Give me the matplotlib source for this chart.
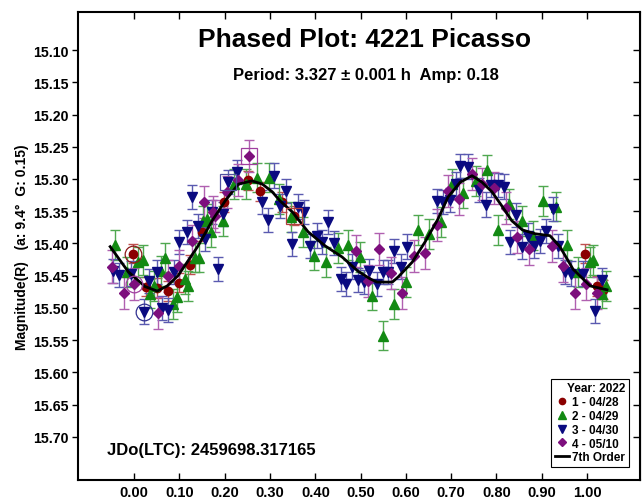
import matplotlib.pyplot as plt
from matplotlib.lines import Line2D

plt.rcParams["font.family"] = ["Liberation Sans", "DejaVu Sans"]
plt.rcParams["font.weight"] = "bold"

# session 1 - 04/28
red_phase = [-0.002, 0.026, 0.051, 0.075, 0.100, 0.124, 0.150, 0.199, 0.252, 0.278,
             0.327, 0.353, 0.996, 1.022, 1.035]
red_mag = [15.416, 15.467, 15.469, 15.474, 15.461, 15.433, 15.382, 15.336, 15.302, 15.319,
           15.336, 15.357, 15.416, 15.466, 15.472]

# session 2 - 04/29
green_phase = [-0.042, -0.015, 0.009, 0.020, 0.035, 0.044, 0.060, 0.068, 0.086, 0.095,
               0.113, 0.119, 0.135, 0.143, 0.152, 0.161, 0.170, 0.196, 0.221, 0.247,
               0.272, 0.298, 0.320, 0.347, 0.373, 0.397, 0.424, 0.450, 0.472, 0.499,
               0.525, 0.550, 0.574, 0.600, 0.627, 0.651, 0.678, 0.702, 0.726, 0.755,
               0.779, 0.804, 0.828, 0.857, 0.881, 0.903, 0.932, 0.956, 0.980, 1.007,
               1.013, 1.033, 1.042]
green_mag = [15.402, 15.444, 15.429, 15.426, 15.478, 15.466, 15.443, 15.422, 15.494, 15.483,
             15.455, 15.466, 15.422, 15.422, 15.365, 15.362, 15.382, 15.365, 15.308, 15.308,
             15.298, 15.298, 15.331, 15.359, 15.382, 15.419, 15.429, 15.407, 15.402, 15.421,
             15.481, 15.543, 15.494, 15.460, 15.379, 15.385, 15.367, 15.308, 15.322, 15.303,
             15.286, 15.379, 15.339, 15.365, 15.388, 15.334, 15.343, 15.402, 15.444, 15.429,
             15.426, 15.478, 15.466]

# session 3 - 04/30
blue_phase = [-0.046, -0.033, -0.007, 0.022, 0.033, 0.051, 0.062, 0.075, 0.088, 0.100,
              0.117, 0.128, 0.141, 0.157, 0.172, 0.185, 0.196, 0.208, 0.227, 0.283,
              0.296, 0.309, 0.321, 0.336, 0.349, 0.362, 0.375, 0.389, 0.404, 0.415,
              0.428, 0.442, 0.457, 0.468, 0.481, 0.494, 0.508, 0.519, 0.536, 0.550,
              0.561, 0.574, 0.589, 0.603, 0.669, 0.682, 0.698, 0.711, 0.720, 0.737,
              0.762, 0.777, 0.788, 0.804, 0.817, 0.830, 0.843, 0.857, 0.870, 0.883,
              0.896, 0.910, 0.925, 0.936, 0.951, 0.965, 0.991, 1.018, 1.033]
blue_mag = [15.443, 15.449, 15.447, 15.506, 15.458, 15.444, 15.500, 15.503, 15.444, 15.398,
            15.382, 15.328, 15.373, 15.393, 15.351, 15.440, 15.354, 15.305, 15.289, 15.336,
            15.364, 15.295, 15.342, 15.319, 15.401, 15.343, 15.351, 15.404, 15.388, 15.398,
            15.367, 15.399, 15.455, 15.463, 15.436, 15.457, 15.460, 15.443, 15.463, 15.444,
            15.444, 15.412, 15.436, 15.405, 15.334, 15.336, 15.333, 15.308, 15.280, 15.281,
            15.317, 15.340, 15.309, 15.309, 15.312, 15.398, 15.356, 15.405, 15.388, 15.404,
            15.396, 15.381, 15.347, 15.404, 15.444, 15.447, 15.447, 15.505, 15.457]

# session 4 - 05/10
purple_phase = [-0.049, -0.022, 0.000, 0.053, 0.075, 0.100, 0.128, 0.155, 0.174, 0.179,
                0.205, 0.230, 0.254, 0.490, 0.517, 0.541, 0.567, 0.592, 0.618, 0.642,
                0.669, 0.693, 0.717, 0.746, 0.768, 0.795, 0.821, 0.845, 0.872, 0.923,
                0.947, 0.974, 0.998, 1.022]
purple_mag = [15.436, 15.477, 15.463, 15.508, 15.450, 15.435, 15.396, 15.336, 15.351, 15.357,
              15.320, 15.302, 15.264, 15.412, 15.458, 15.409, 15.446, 15.477, 15.419, 15.415,
              15.371, 15.319, 15.331, 15.292, 15.308, 15.314, 15.345, 15.390, 15.409, 15.404,
              15.435, 15.477, 15.463, 15.477]

# 7th order fit
fit_phase = [-0.053, -0.013, 0.024, 0.051, 0.073, 0.097, 0.119, 0.141, 0.172, 0.201,
             0.230, 0.260, 0.283, 0.305, 0.322, 0.349, 0.384, 0.422, 0.459, 0.494,
             0.521, 0.536, 0.570, 0.583, 0.614, 0.642, 0.671, 0.693, 0.720, 0.746,
             0.768, 0.790, 0.812, 0.834, 0.857, 0.885, 0.918, 0.940, 0.969, 1.007, 1.044]
fit_mag = [15.405, 15.444, 15.467, 15.474, 15.466, 15.450, 15.427, 15.404, 15.365, 15.334,
           15.308, 15.303, 15.308, 15.320, 15.334, 15.351, 15.382, 15.404, 15.421, 15.443,
           15.455, 15.460, 15.460, 15.452, 15.429, 15.398, 15.362, 15.328, 15.305, 15.295,
           15.305, 15.320, 15.342, 15.365, 15.379, 15.385, 15.388, 15.405, 15.440, 15.466, 15.472]

# highlighted points (circles / squares)
circled = [(-0.002, 15.416, "#8b1a1a"), (0.000, 15.463, "#a040a0"), (0.022, 15.506, "#303090")]
boxed = [(0.254, 15.264, "#a040a0"), (0.208, 15.305, "#5050a0"), (0.353, 15.357, "#b04040")]

series = [
    ("1 - 04/28", red_phase, red_mag, 0.015, "o", 6.0, "#8b0000", "#c05050"),
    ("2 - 04/29", green_phase, green_mag, 0.023, "^", 7.0, "#138a13", "#50a850"),
    ("3 - 04/30", blue_phase, blue_mag, 0.019, "v", 7.0, "#0a0a80", "#5a5ab0"),
    ("4 - 05/10", purple_phase, purple_mag, 0.025, "D", 5.2, "#7d0f7d", "#b060b0"),
]

fig = plt.figure(figsize=(6.42, 5.02), dpi=100)
ax = fig.add_axes([0.1215, 0.042, 0.8755, 0.932])

handles = []
for label, ph, mg, err, marker, size, color, ecolor in series:
    ax.errorbar(ph, mg, yerr=err, fmt=marker, ms=size, color=color, mec=color,
                ecolor=ecolor, elinewidth=1.0, capsize=3.5, capthick=1.0, zorder=3)
    handles.append(Line2D([], [], marker=marker, ls="", color=color, ms=size - 1.5, label=label))

ax.plot(fit_phase, fit_mag, color="black", lw=2.0, zorder=4)
handles.append(Line2D([], [], color="black", lw=2.0, label="7th Order"))

for x, y, c in circled:
    ax.plot(x, y, "o", ms=12, mfc="none", mec=c, mew=0.9, zorder=5)
for x, y, c in boxed:
    ax.plot(x, y, "s", ms=11, mfc="none", mec=c, mew=0.9, zorder=5)

ax.set_xlim(-0.124, 1.117)
ax.set_ylim(15.767, 15.041)
xticks = [0.0, 0.1, 0.2, 0.3, 0.4, 0.5, 0.6, 0.7, 0.8, 0.9, 1.0]
yticks = [15.10, 15.15, 15.20, 15.25, 15.30, 15.35, 15.40, 15.45, 15.50, 15.55, 15.60, 15.65, 15.70]
ax.set_xticks(xticks)
ax.set_xticklabels([f"{t:.2f}" for t in xticks])
ax.set_yticks(yticks)
ax.set_yticklabels([f"{t:.2f}" for t in yticks])
ax.tick_params(axis="x", direction="in", top=True, length=5, width=1, labelsize=10.5, pad=4)
ax.tick_params(axis="y", direction="out", length=4.5, width=1, labelsize=10.2, pad=2)
for s in ax.spines.values():
    s.set_linewidth(1.5)

right = ax.secondary_yaxis("right")
right.set_yticks(yticks)
right.tick_params(axis="y", direction="in", length=5, width=1, labelright=False)

ax.set_ylabel("Magnitude(R)   (a: 9.4°  G: 0.15)", fontsize=10, fontweight="bold", labelpad=3)

ax.text(0.509, 0.942, "Phased Plot: 4221 Picasso", transform=ax.transAxes,
        ha="center", va="center", fontsize=19, fontweight="bold")
ax.text(0.513, 0.866, "Period: 3.327 ± 0.001 h  Amp: 0.18", transform=ax.transAxes,
        ha="center", va="center", fontsize=12, fontweight="bold")
ax.text(0.052, 0.064, "JDo(LTC): 2459698.317165", transform=ax.transAxes,
        ha="left", va="center", fontsize=12, fontweight="bold")

leg = ax.legend(handles=handles, title="Year: 2022", loc="lower right",
                bbox_to_anchor=(0.98, 0.028), fontsize=8.5, title_fontsize=8.5,
                frameon=True, fancybox=False, edgecolor="black", framealpha=1,
                handlelength=1.2, handletextpad=0.3, labelspacing=0.15,
                borderpad=0.3, borderaxespad=0, alignment="right")
leg.get_frame().set_linewidth(0.8)
leg.get_title().set_fontweight("bold")
for t in leg.get_texts():
    t.set_fontweight("bold")

fig.savefig("out.png", dpi=100)
